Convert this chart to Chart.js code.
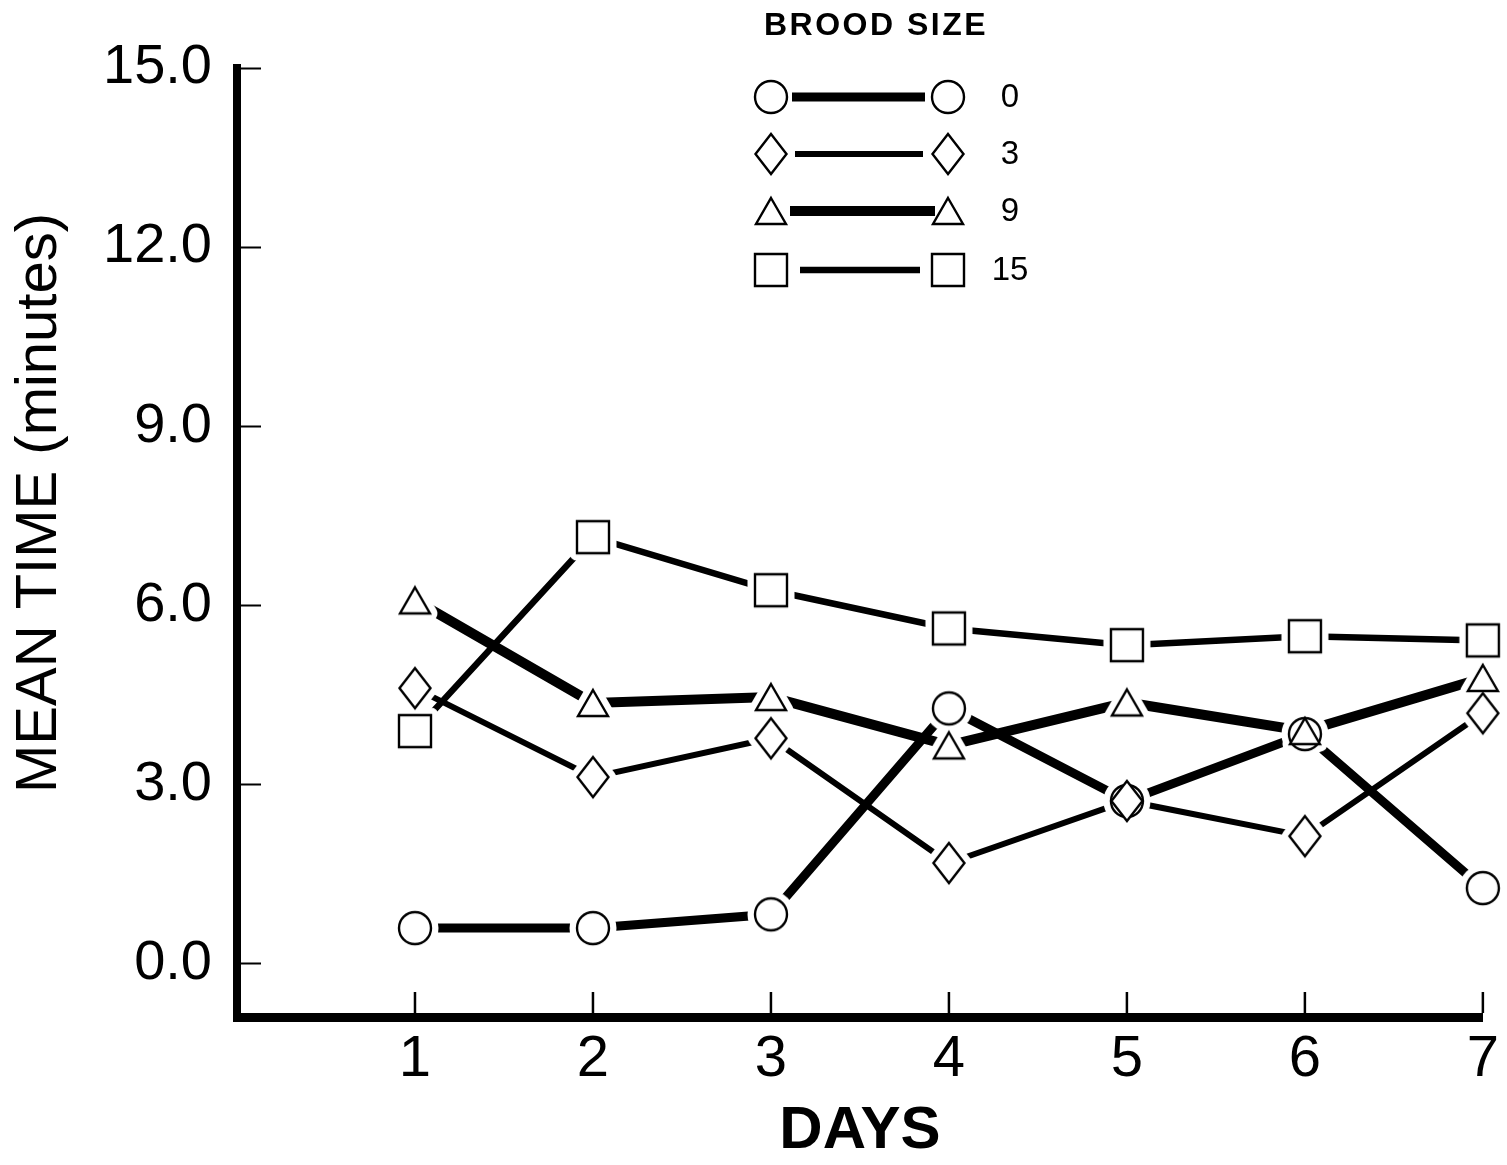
<!DOCTYPE html>
<html lang="en">
<head>
<meta charset="UTF-8">
<title>Mean time by brood size</title>
<script src="https://cdn.jsdelivr.net/npm/chart.js@4"></script>
<style>
  html, body { margin: 0; padding: 0; background: #fff; }
  #wrap { width: 1507px; height: 1165px; position: relative; }
</style>
</head>
<body>
<div id="wrap"><canvas id="chart" width="1507" height="1165"></canvas></div>
<script>
// values
const days = [1, 2, 3, 4, 5, 6, 7];
const yTicks = [0, 3, 6, 9, 12, 15];
const broodSizes = ['0', '3', '9', '15'];
const brood0 = [0.59, 0.59, 0.82, 4.27, 2.72, 3.84, 1.26];
const brood3 = [4.61, 3.12, 3.77, 1.68, 2.72, 2.13, 4.19];
const brood9 = [6.08, 4.36, 4.46, 3.65, 4.37, 3.89, 4.78];
const brood15 = [3.89, 7.14, 6.25, 5.61, 5.33, 5.48, 5.41];

const FONT = '"Liberation Sans", Arial, Helvetica, sans-serif';

// hollow marker glyphs drawn onto small canvases
function shapePath(ctx, shape) {
  ctx.beginPath();
  if (shape === 'circle') {
    ctx.arc(0, 0, 16, 0, Math.PI * 2);
  } else if (shape === 'diamond') {
    ctx.moveTo(0, -20); ctx.lineTo(15.5, 0); ctx.lineTo(0, 20); ctx.lineTo(-15.5, 0);
    ctx.closePath();
  } else if (shape === 'triangle') {
    ctx.moveTo(0, -13); ctx.lineTo(15, 13); ctx.lineTo(-15, 13);
    ctx.closePath();
  } else {
    ctx.rect(-16, -16, 32, 32);
  }
}

function makeMarker(shape, halo) {
  const c = document.createElement('canvas');
  c.width = 64; c.height = 64;
  const ctx = c.getContext('2d');
  ctx.translate(32, 32);
  shapePath(ctx, shape);
  ctx.fillStyle = '#fff';
  ctx.fill();
  ctx.lineJoin = 'miter';
  if (halo) {
    ctx.strokeStyle = '#fff';
    ctx.lineJoin = 'round';
    ctx.lineWidth = 15;
  } else {
    ctx.strokeStyle = '#000';
    ctx.lineWidth = 2.4;
  }
  ctx.stroke();
  return c;
}

const series = [
  { data: brood0, shape: 'circle', width: 9 },
  { data: brood3, shape: 'diamond', width: 6 },
  { data: brood9, shape: 'triangle', width: 10 },
  { data: brood15, shape: 'square', width: 6.5 }
];
series.forEach(s => {
  s.marker = makeMarker(s.shape, false);
  s.halo = makeMarker(s.shape, true);
});

const toXY = vals => days.map((d, i) => ({ x: d, y: vals[i] }));

const datasets = [];
// connecting lines (bottom layer)
series.forEach((s, i) => datasets.push({
  label: 'line ' + broodSizes[i], data: toXY(s.data),
  borderColor: '#000', borderWidth: s.width, pointRadius: 0,
  tension: 0, fill: false, clip: false, order: 3
}));
// white halos leave a gap where a line meets a marker
series.forEach((s, i) => datasets.push({
  label: 'halo ' + broodSizes[i], data: toXY(s.data), showLine: false,
  pointStyle: s.halo, pointRadius: 16, clip: false, order: 2
}));
// open markers, circles underneath the others
series.forEach((s, i) => datasets.push({
  label: broodSizes[i], data: toXY(s.data), showLine: false,
  pointStyle: s.marker, pointRadius: 16, clip: false,
  order: s.shape === 'circle' ? 1 : 0
}));

// short ticks pointing into the plot, y title and the brood size key
const decorations = {
  id: 'decorations',
  afterDraw(chart) {
    const { ctx, scales: { x, y }, chartArea } = chart;
    ctx.save();
    ctx.strokeStyle = '#000';
    ctx.lineWidth = 2;
    yTicks.forEach(v => {
      const py = Math.round(y.getPixelForValue(v)) + 0.5;
      ctx.beginPath();
      ctx.moveTo(chartArea.left + 4, py);
      ctx.lineTo(chartArea.left + 24, py);
      ctx.stroke();
    });
    ctx.lineWidth = 2.5;
    days.forEach(v => {
      const px = x.getPixelForValue(v);
      ctx.beginPath();
      ctx.moveTo(px, chartArea.bottom - 4);
      ctx.lineTo(px, chartArea.bottom - 25);
      ctx.stroke();
    });

    // y axis title
    ctx.save();
    ctx.translate(40, 503);
    ctx.rotate(-Math.PI / 2);
    ctx.fillStyle = '#000';
    ctx.font = '58px ' + FONT;
    ctx.textAlign = 'center';
    ctx.textBaseline = 'middle';
    ctx.fillText('MEAN TIME (minutes)', 0, 0);
    ctx.restore();

    // key
    ctx.fillStyle = '#000';
    ctx.font = 'bold 32px ' + FONT;
    ctx.letterSpacing = '2.5px';
    ctx.textAlign = 'left';
    ctx.textBaseline = 'middle';
    ctx.fillText('BROOD SIZE', 764, 26);
    ctx.letterSpacing = '0px';
    const rows = [97, 154, 211, 270];
    const lineSpans = [[792, 925], [795, 923], [790, 935], [800, 920]];
    ctx.font = '33px ' + FONT;
    ctx.textAlign = 'center';
    series.forEach((s, i) => {
      const ry = rows[i];
      ctx.lineWidth = s.width;
      ctx.beginPath();
      ctx.moveTo(lineSpans[i][0], ry);
      ctx.lineTo(lineSpans[i][1], ry);
      ctx.stroke();
      ctx.drawImage(s.marker, 771 - 32, ry - 32);
      ctx.drawImage(s.marker, 948 - 32, ry - 32);
      ctx.fillText(broodSizes[i], 1010, ry + 1);
    });
    ctx.restore();
  }
};

new Chart(document.getElementById('chart'), {
  type: 'line',
  data: { datasets },
  plugins: [decorations],
  options: {
    responsive: false,
    animation: false,
    events: [],
    layout: { padding: { top: 68, right: 24, left: 0, bottom: 0 } },
    plugins: {
      legend: { display: false },
      tooltip: { enabled: false }
    },
    scales: {
      x: {
        type: 'linear',
        min: 0,
        max: 7,
        afterBuildTicks: s => { s.ticks = days.map(v => ({ value: v })); },
        afterFit: s => { s.height = 148; },
        grid: { display: false, drawTicks: false },
        border: { display: true, color: '#000', width: 9 },
        ticks: {
          color: '#000',
          padding: 8,
          font: { family: FONT, size: 58 },
          callback: v => String(v)
        },
        title: {
          display: true,
          text: 'DAYS',
          color: '#000',
          padding: { top: 0, bottom: 4 },
          font: { family: FONT, size: 60, weight: 'bold', lineHeight: 1 }
        }
      },
      y: {
        min: -0.9,
        max: 15,
        afterBuildTicks: s => { s.ticks = yTicks.map(v => ({ value: v })); },
        afterFit: s => { s.width = 237; },
        grid: { display: false, drawTicks: false },
        border: { display: true, color: '#000', width: 8 },
        ticks: {
          color: '#000',
          padding: 25,
          font: { family: FONT, size: 56 },
          callback: v => v.toFixed(1)
        }
      }
    }
  }
});
</script>
</body>
</html>
